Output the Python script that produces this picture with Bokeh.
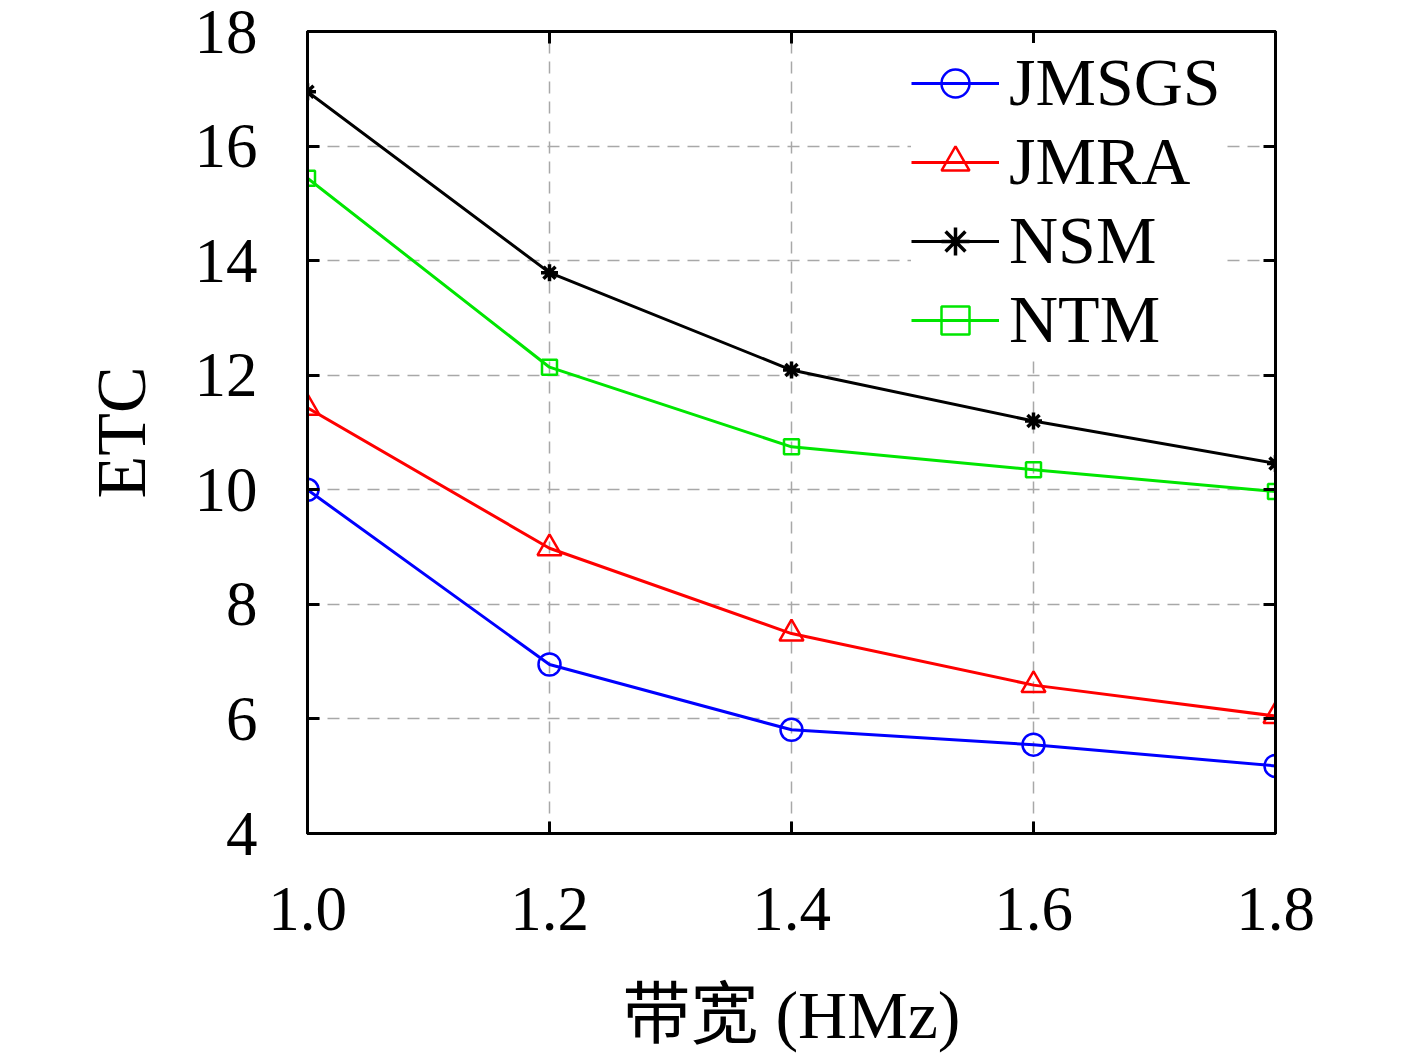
from bokeh.plotting import figure
from bokeh.models import FixedTicker, LinearAxis, Legend, LegendItem, Range1d
from bokeh.embed import file_html
from bokeh.resources import INLINE

bandwidth = [1.0, 1.2, 1.4, 1.6, 1.8]
jmsgs = [10.0, 6.95, 5.81, 5.55, 5.18]
jmra = [11.43, 8.98, 7.49, 6.59, 6.05]
nsm = [16.95, 13.79, 12.09, 11.2, 10.46]
ntm = [15.44, 12.14, 10.75, 10.35, 9.97]
x_ticks = [1.0, 1.2, 1.4, 1.6, 1.8]
y_ticks = [4, 6, 8, 10, 12, 14, 16, 18]

FONT = "'Liberation Serif', 'Noto Sans CJK SC'"
TICK_FS = "63px"

p = figure(width=1409, height=1055, output_backend="svg", toolbar_location=None,
           x_range=Range1d(1.0, 1.8), y_range=Range1d(4, 18),
           min_border_left=307, min_border_right=134, min_border_top=31, min_border_bottom=217)
p.background_fill_color = "white"
p.border_fill_color = "white"
p.outline_line_color = "black"
p.outline_line_width = 3

for ax in (p.xaxis[0], p.yaxis[0]):
    ax.axis_line_width = 3
    ax.major_tick_in = 12
    ax.major_tick_out = 0
    ax.major_tick_line_width = 3
    ax.minor_tick_line_color = None
    ax.major_label_text_font = FONT
    ax.major_label_text_font_size = TICK_FS
    ax.major_label_text_color = "black"
    ax.axis_label_text_font = FONT
    ax.axis_label_text_font_style = "normal"
    ax.axis_label_text_color = "black"

p.xaxis[0].ticker = FixedTicker(ticks=x_ticks)
p.yaxis[0].ticker = FixedTicker(ticks=y_ticks)
p.xaxis[0].major_label_overrides = {t: f"{t:.1f}" for t in x_ticks}
p.xaxis[0].axis_label = "带宽 (HMz)"
p.yaxis[0].axis_label = "ETC"
p.xaxis[0].axis_label_text_font_size = "68px"
p.yaxis[0].axis_label_text_font_size = "70px"
p.xaxis[0].major_label_standoff = 54
p.yaxis[0].major_label_standoff = 50
p.xaxis[0].axis_label_standoff = 44
p.yaxis[0].axis_label_standoff = 32

for loc, tk in (("right", y_ticks), ("above", x_ticks)):
    ax = LinearAxis(ticker=FixedTicker(ticks=tk),
                    major_label_overrides={t: "" for t in tk},
                    axis_line_width=3, major_tick_in=12, major_tick_out=0,
                    major_tick_line_width=3, minor_tick_line_color=None,
                    major_label_standoff=0)
    p.add_layout(ax, loc)

p.xgrid.ticker = FixedTicker(ticks=x_ticks)
p.ygrid.ticker = FixedTicker(ticks=y_ticks)
for g in (p.xgrid, p.ygrid):
    g.grid_line_color = "#a8a8a8"
    g.grid_line_width = 1.5
    g.grid_line_dash = "12 8"

items = []
series = [
    ("JMSGS", jmsgs, "#0000ff", "circle", 22),
    ("JMRA", jmra, "#ff0000", "triangle", 24),
    ("NSM", nsm, "black", "asterisk", 17),
    ("NTM", ntm, "#00e600", "square", 15),
]
for name, ys, col, mk, sz in series:
    l = p.line(bandwidth, ys, line_color=col, line_width=3)
    if mk == "asterisk":
        s = p.scatter(bandwidth, ys, marker=mk, size=sz, line_color=col, line_width=3.5)
    else:
        s = p.scatter(bandwidth, ys, marker=mk, size=sz, line_color=col, line_width=2.5,
                      fill_color=None)
    items.append(LegendItem(label=name, renderers=[l, s]))

legend = Legend(items=items, location=(604, 474), orientation="vertical",
                label_text_font=FONT, label_text_font_size="68px", label_text_color="black",
                glyph_width=88, glyph_height=70, label_height=70, spacing=0, padding=6,
                label_standoff=10, border_line_color=None, background_fill_color="white",
                background_fill_alpha=1.0)
p.add_layout(legend, "center")

open("out.html", "w").write(file_html(p, INLINE))
